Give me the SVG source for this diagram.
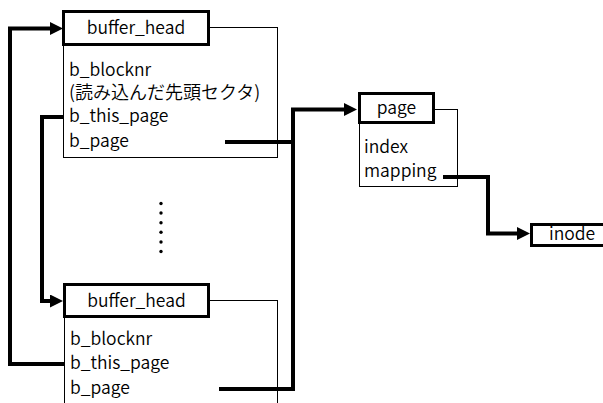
<svg xmlns="http://www.w3.org/2000/svg" width="603" height="403" viewBox="0 0 603 403">
  <style>
    .title { fill: #fff; stroke: #000; stroke-width: 3; }
    .frame { fill: #fff; stroke: #000; stroke-width: 1; }
    .lbl { font-family: "Noto Sans CJK JP", "Liberation Sans", sans-serif; font-size: 17.5px; font-weight: 350; fill: #000; }
    .jp { font-size: 18px; }
    .mid { text-anchor: middle; }
    .wire { fill: none; stroke: #000; stroke-width: 4; stroke-linejoin: miter; }
  </style>
  <defs>
    <marker id="arrow" markerUnits="userSpaceOnUse" markerWidth="14" markerHeight="14" refX="2" refY="6.5" orient="auto">
      <path d="M0,0 L13,6.5 L0,13 Z" fill="#000"/>
    </marker>
  </defs>

  <!-- first buffer_head -->
  <g id="bh1">
    <rect class="frame" x="63.5" y="27.5" width="214" height="130"/>
    <rect class="title" x="63.5" y="11.5" width="145" height="33"/>
    <text class="lbl mid" x="136" y="34">buffer_head</text>
    <text class="lbl" x="69" y="76">b_blocknr</text>
    <text class="lbl jp" x="69" y="99">(読み込んだ先頭セクタ)</text>
    <text class="lbl" x="69" y="122">b_this_page</text>
    <text class="lbl" x="69" y="147">b_page</text>
  </g>

  <!-- ellipsis between the two buffer heads -->
  <g id="ellipsis" fill="#000">
    <circle cx="161" cy="203.5" r="1.7"/>
    <circle cx="161" cy="213" r="1.7"/>
    <circle cx="161" cy="222.7" r="1.7"/>
    <circle cx="161" cy="232.3" r="1.7"/>
    <circle cx="161" cy="242" r="1.7"/>
    <circle cx="161" cy="251.5" r="1.7"/>
  </g>

  <!-- second buffer_head -->
  <g id="bh2">
    <rect class="frame" x="64.5" y="300.5" width="213" height="120"/>
    <rect class="title" x="64.5" y="284.5" width="144" height="32"/>
    <text class="lbl mid" x="136.5" y="307">buffer_head</text>
    <text class="lbl" x="70" y="345">b_blocknr</text>
    <text class="lbl" x="70" y="369">b_this_page</text>
    <text class="lbl" x="70" y="394">b_page</text>
  </g>

  <!-- page -->
  <g id="page">
    <rect class="frame" x="359.5" y="109.5" width="98" height="77"/>
    <rect class="title" x="359.5" y="93.5" width="74" height="29"/>
    <text class="lbl mid" x="396.5" y="114">page</text>
    <text class="lbl" x="364" y="153">index</text>
    <text class="lbl" x="364" y="177">mapping</text>
  </g>

  <!-- inode -->
  <g id="inode">
    <rect class="title" x="531.5" y="224.5" width="80" height="21"/>
    <text class="lbl" x="549" y="239.5">inode</text>
  </g>

  <!-- connectors -->
  <g id="connectors">
    <path class="wire" d="M64,364 H10 V28.5 H52" marker-end="url(#arrow)"/>
    <path class="wire" d="M64,117 H42 V301 H52" marker-end="url(#arrow)"/>
    <path class="wire" d="M225,142 H293 V109.5 H346" marker-end="url(#arrow)"/>
    <path class="wire" d="M219,389 H293 V140"/>
    <path class="wire" d="M443,177 H488 V233.5 H519" marker-end="url(#arrow)"/>
  </g>
</svg>
